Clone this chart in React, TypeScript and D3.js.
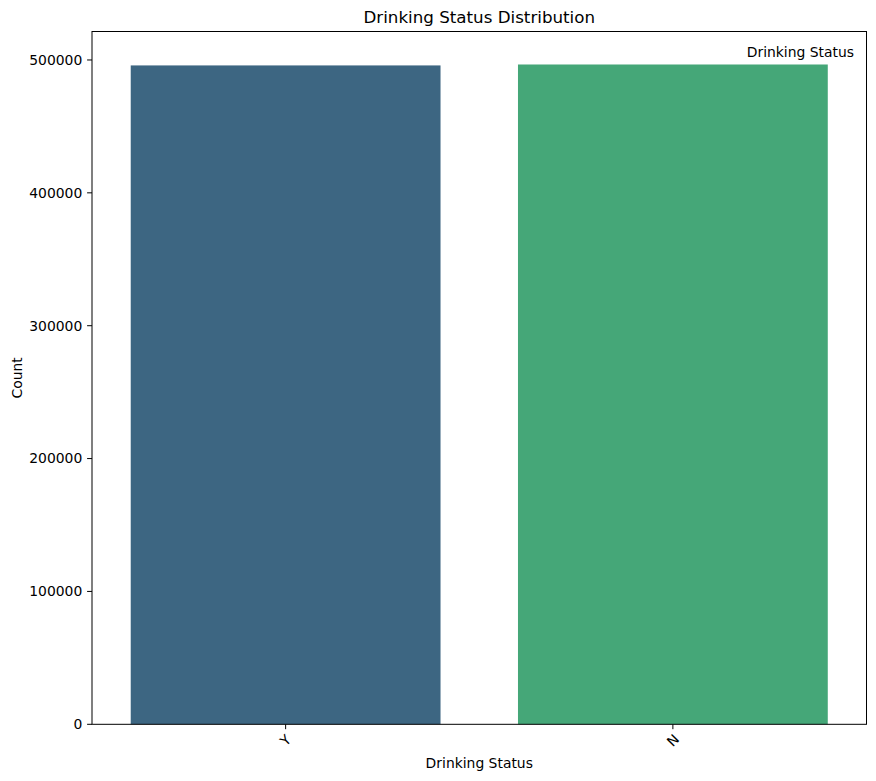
import React from "react";
import * as d3 from "d3";

const categories = ["Y", "N"];
const counts = [495900, 496600];
const colors = ["#3d6682", "#45a778"];
const yTicks = [0, 100000, 200000, 300000, 400000, 500000];
const title = "Drinking Status Distribution";
const xLabel = "Drinking Status";
const yLabel = "Count";
const legendTitle = "Drinking Status";

const W = 876;
const H = 781;
const M = { left: 92, right: 876 - 866.5, top: 31.5, bottom: 781 - 724.3 };
const FONT = "DejaVu Sans, sans-serif";
const FS = 13.9;

export default function App() {
  const x = d3
    .scaleBand<string>()
    .domain(categories)
    .range([M.left, W - M.right])
    .paddingInner(0.2)
    .paddingOuter(0.1);
  const yMax = (d3.max(counts) as number) * 1.05;
  const y = d3.scaleLinear().domain([0, yMax]).range([H - M.bottom, M.top]);
  const x0 = M.left;
  const x1 = W - M.right;
  const y0 = H - M.bottom;
  const y1 = M.top;

  return (
    <div style={{ position: "absolute", left: 0, top: 0 }}>
      <svg width={W} height={H} style={{ display: "block", background: "#fff" }}>
        <rect x={0} y={0} width={W} height={H} fill="#fff" />
        {categories.map((c, i) => (
          <rect
            key={c}
            x={x(c)}
            y={y(counts[i])}
            width={x.bandwidth()}
            height={y(0) - y(counts[i])}
            fill={colors[i]}
          />
        ))}
        <rect x={x0} y={y1} width={x1 - x0} height={y0 - y1} fill="none" stroke="#000" strokeWidth={1} />
        {yTicks.map((t) => (
          <g key={t} transform={`translate(0,${y(t)})`}>
            <line x1={x0 - 4.9} x2={x0} stroke="#000" strokeWidth={1} />
            <text x={x0 - 9.7} dy="0.35em" textAnchor="end" fontFamily={FONT} fontSize={FS} fill="#000">
              {t}
            </text>
          </g>
        ))}
        {categories.map((c) => {
          const cx = (x(c) as number) + x.bandwidth() / 2;
          return (
            <g key={c} transform={`translate(${cx},${y0})`}>
              <line y1={0} y2={4.9} stroke="#000" strokeWidth={1} />
              <text
                transform={`translate(0,${16}) rotate(-45)`}
                textAnchor="middle"
                dy="0.35em"
                fontFamily={FONT}
                fontSize={FS}
                fill="#000"
              >
                {c}
              </text>
            </g>
          );
        })}
        <text x={(x0 + x1) / 2} y={17} dy="0.35em" textAnchor="middle" fontFamily={FONT} fontSize={16.7} fill="#000">
          {title}
        </text>
        <text x={(x0 + x1) / 2} y={763} dy="0.35em" textAnchor="middle" fontFamily={FONT} fontSize={FS} fill="#000">
          {xLabel}
        </text>
        <text
          transform={`translate(17,${(y0 + y1) / 2}) rotate(-90)`}
          dy="0.35em"
          textAnchor="middle"
          fontFamily={FONT}
          fontSize={FS}
          fill="#000"
        >
          {yLabel}
        </text>
        <text x={854} y={52} dy="0.35em" textAnchor="end" fontFamily={FONT} fontSize={FS} fill="#000">
          {legendTitle}
        </text>
      </svg>
    </div>
  );
}
